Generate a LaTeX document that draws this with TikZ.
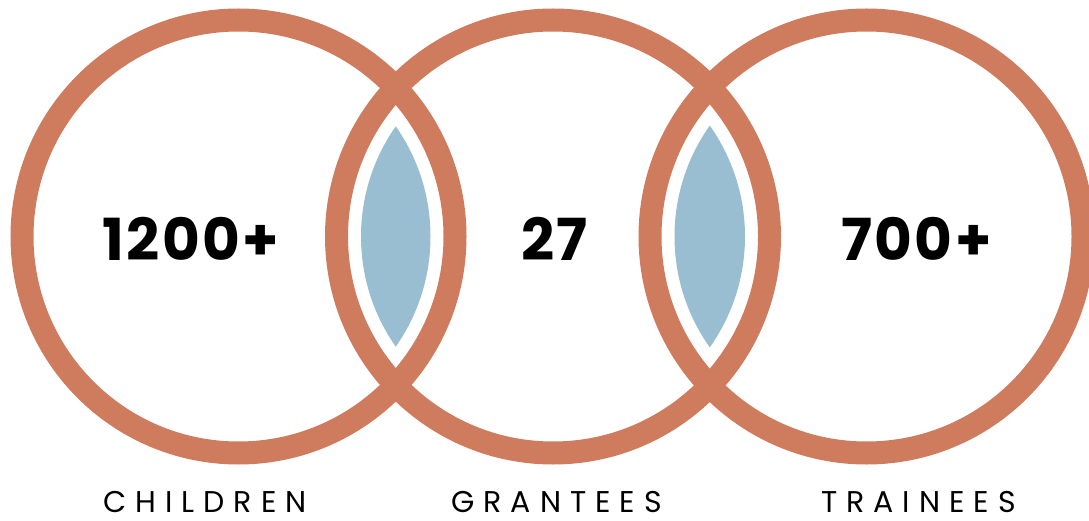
\documentclass[tikz,border=0pt]{standalone}
\usepackage{fontspec}
\setmainfont{Poppins}
\newfontfamily\numfont{Poppins}[LetterSpace=4]
\newfontfamily\labfont{Poppins}[LetterSpace=30]
\definecolor{ringc}{RGB}{206,123,94}
\definecolor{lensc}{RGB}{154,190,209}
\begin{document}
\begin{tikzpicture}[x=1pt,y=-1pt,
  ring/.style={draw=ringc,line width=23pt},
  lensfill/.style={fill=lensc},
  numtxt/.style={inner sep=0pt,anchor=base,font=\numfont\bfseries\fontsize{58}{58}\selectfont},
  labtxt/.style={inner sep=0pt,anchor=base,font=\labfont\fontsize{30}{30}\selectfont}]
\useasboundingbox (0,0) rectangle (1089,521);
\coordinate (c1) at (238.5,236.5);
\coordinate (c2) at (553,236.5);
\coordinate (c3) at (866.5,236.5);
% lenses
\begin{scope}
  \clip (c1) circle[radius=192pt];
  \fill[lensfill] (c2) circle[radius=192pt];
\end{scope}
\begin{scope}
  \clip (c2) circle[radius=192pt];
  \fill[lensfill] (c3) circle[radius=192pt];
\end{scope}
% rings
\draw[ring] (c1) circle[radius=216.5pt];
\draw[ring] (c2) circle[radius=216.5pt];
\draw[ring] (c3) circle[radius=216.5pt];
% numbers
\node[numtxt] (n1) at (191,261) {1200+};
\node[numtxt] (n2) at (554.5,261) {27};
\node[numtxt] (n3) at (916.5,261) {700+};
% labels
\node[labtxt] (l1) at (205,512.5) {CHILDREN};
\node[labtxt] (l2) at (556.5,512.5) {GRANTEES};
\node[labtxt] (l3) at (918.5,512.5) {TRAINEES};
\end{tikzpicture}
\end{document}
